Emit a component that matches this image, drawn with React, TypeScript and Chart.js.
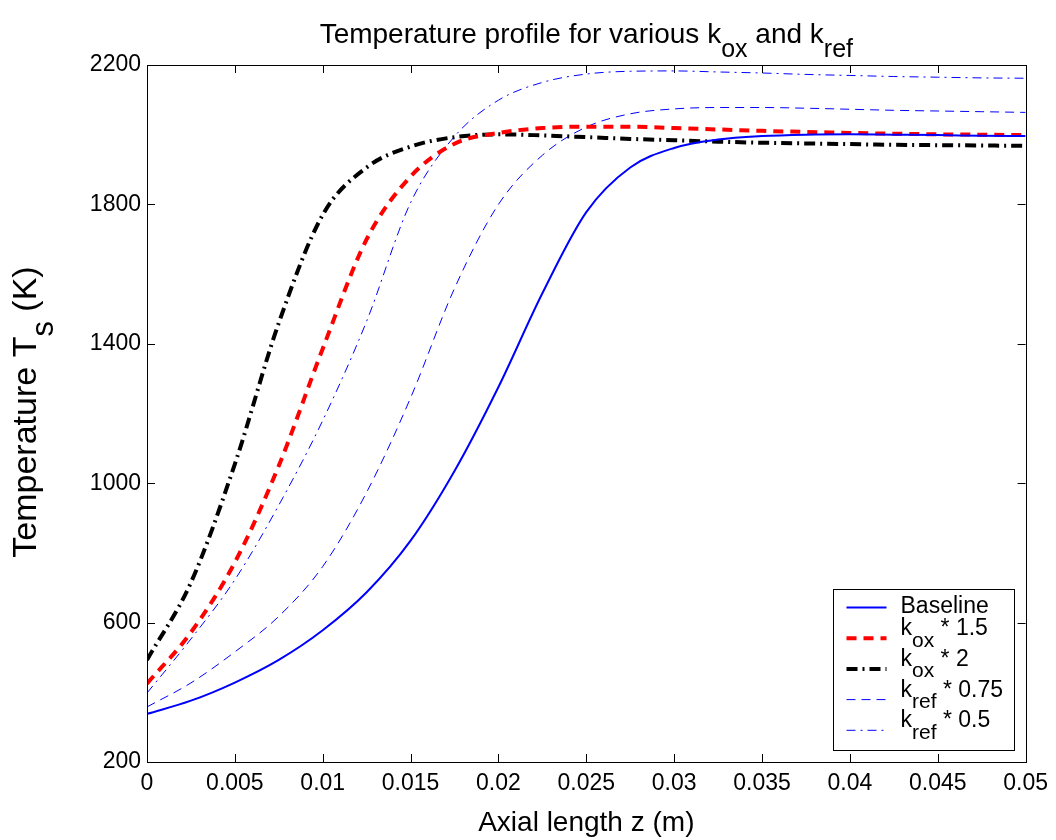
import React, { useEffect, useRef } from 'react';
import { Chart, registerables } from 'chart.js';

Chart.register(...registerables);

// ---- data ----
const zValues = [
  0, 0.0025, 0.005, 0.0075, 0.01, 0.0125, 0.015, 0.0175, 0.02, 0.0225, 0.025,
  0.0275, 0.03, 0.0325, 0.035, 0.0375, 0.04, 0.0425, 0.045, 0.0475, 0.05,
];
const baseline = [
  338, 376, 428, 493, 578, 687, 835, 1035, 1276, 1545, 1778,
  1906, 1962, 1986, 1996, 2000, 2001, 2000, 1999, 1997, 1996,
];
const kox15 = [
  425, 572, 773, 1050, 1386, 1700, 1880, 1974, 2005, 2019, 2023,
  2023, 2019, 2015, 2011, 2008, 2005, 2003, 2001, 2000, 1999,
];
const kox2 = [
  493, 715, 1055, 1460, 1770, 1906, 1966, 1993, 2001, 1998, 1993,
  1988, 1984, 1980, 1977, 1975, 1973, 1971, 1970, 1969, 1968,
];
const kref075 = [
  358, 427, 516, 618, 761, 974, 1245, 1559, 1800, 1941, 2022,
  2060, 2074, 2078, 2078, 2076, 2073, 2070, 2068, 2066, 2064,
];
const kref05 = [
  398, 553, 723, 937, 1180, 1465, 1805, 1995, 2099, 2150, 2174,
  2182, 2183, 2180, 2177, 2173, 2170, 2167, 2165, 2163, 2162,
];
const seriesNames = [
  'Baseline',
  'k_{ox} * 1.5',
  'k_{ox} * 2',
  'k_{ref} * 0.75',
  'k_{ref} * 0.5',
];
const xTicks = [0, 0.005, 0.01, 0.015, 0.02, 0.025, 0.03, 0.035, 0.04, 0.045, 0.05];
const xTickLabels = ['0', '0.005', '0.01', '0.015', '0.02', '0.025', '0.03', '0.035', '0.04', '0.045', '0.05'];
const yTicks = [200, 600, 1000, 1400, 1800, 2200];
const yTickLabels = ['200', '600', '1000', '1400', '1800', '2200'];
const titleText = 'Temperature profile for various k_{ox} and k_{ref}';
const xTitleText = 'Axial length z (m)';
const yTitleText = 'Temperature T_{s} (K)';

const FONT = '"Liberation Sans", Arial, Helvetica, sans-serif';

function parseRich(text: string) {
  const parts: { t: string; sub: boolean }[] = [];
  const re = /_\{([^}]*)\}/g;
  let last = 0;
  let m: RegExpExecArray | null;
  while ((m = re.exec(text)) !== null) {
    if (m.index > last) parts.push({ t: text.slice(last, m.index), sub: false });
    parts.push({ t: m[1], sub: true });
    last = m.index + m[0].length;
  }
  if (last < text.length) parts.push({ t: text.slice(last), sub: false });
  return parts;
}

function drawRich(
  ctx: CanvasRenderingContext2D,
  text: string,
  x: number,
  y: number,
  align: 'left' | 'center',
  size: number
) {
  const subSize = Math.round(size * 0.9);
  const subDrop = size * 0.5;
  const parts = parseRich(text);
  const fontMain = `${size}px ${FONT}`;
  const fontSub = `${subSize}px ${FONT}`;
  let total = 0;
  const widths = parts.map((p) => {
    ctx.font = p.sub ? fontSub : fontMain;
    const w = ctx.measureText(p.t).width;
    total += w;
    return w;
  });
  let cx = align === 'center' ? x - total / 2 : x;
  ctx.textAlign = 'left';
  ctx.textBaseline = 'alphabetic';
  ctx.fillStyle = '#000';
  parts.forEach((p, i) => {
    ctx.font = p.sub ? fontSub : fontMain;
    ctx.fillText(p.t, cx, p.sub ? y + subDrop : y);
    cx += widths[i];
  });
}

const decorPlugin = {
  id: 'matlabDecor',
  afterDatasetsDraw(chart: any) {
    const ctx: CanvasRenderingContext2D = chart.ctx;
    const { left, right, top, bottom } = chart.chartArea;
    const xs = chart.scales.x;
    const ys = chart.scales.y;
    ctx.save();
    // box
    ctx.strokeStyle = '#000';
    ctx.lineWidth = 1;
    ctx.setLineDash([]);
    ctx.strokeRect(Math.round(left) + 0.5, Math.round(top) + 0.5, Math.round(right - left), Math.round(bottom - top));
    // inward ticks
    const tl = 8;
    ctx.beginPath();
    xTicks.forEach((v) => {
      const px = Math.round(xs.getPixelForValue(v)) + 0.5;
      ctx.moveTo(px, bottom);
      ctx.lineTo(px, bottom - tl);
      ctx.moveTo(px, top);
      ctx.lineTo(px, top + tl);
    });
    yTicks.forEach((v) => {
      const py = Math.round(ys.getPixelForValue(v)) + 0.5;
      ctx.moveTo(left, py);
      ctx.lineTo(left + tl, py);
      ctx.moveTo(right, py);
      ctx.lineTo(right - tl, py);
    });
    ctx.stroke();

    // legend
    const lw = 181;
    const lh = 161;
    const lx = Math.round(right - 12 - lw) + 0.5;
    const ly = Math.round(bottom - 12 - lh) + 0.5;
    ctx.fillStyle = '#fff';
    ctx.fillRect(lx, ly, lw, lh);
    ctx.strokeStyle = '#000';
    ctx.lineWidth = 1;
    ctx.strokeRect(lx, ly, lw, lh);
    chart.data.datasets.forEach((ds: any, i: number) => {
      const ry = ly + 18 + i * 30.7;
      ctx.save();
      ctx.beginPath();
      ctx.strokeStyle = ds.borderColor;
      ctx.lineWidth = ds.borderWidth;
      ctx.setLineDash(ds.borderDash || []);
      ctx.moveTo(lx + 13, ry);
      ctx.lineTo(lx + 53, ry);
      ctx.stroke();
      ctx.restore();
      const name: string = seriesNames[i];
      const hasSub = name.indexOf('_{') >= 0;
      drawRich(ctx, name, lx + 67, hasSub ? ry - 3 : ry + 5, 'left', 23);
    });

    // titles
    const cxm = (left + right) / 2;
    drawRich(ctx, titleText, cxm, 43, 'center', 28);
    drawRich(ctx, xTitleText, cxm, 831, 'center', 28);
    ctx.save();
    ctx.translate(36, 412);
    ctx.rotate(-Math.PI / 2);
    drawRich(ctx, yTitleText, 0, 0, 'center', 34);
    ctx.restore();
    ctx.restore();
  },
};

export default function App() {
  const ref = useRef<HTMLCanvasElement | null>(null);

  useEffect(() => {
    if (!ref.current) return;
    const mk = (vals: number[]) => zValues.map((z, i) => ({ x: z, y: vals[i] }));
    const chart = new Chart(ref.current, {
      type: 'line',
      data: {
        datasets: [
          { label: 'Baseline', data: mk(baseline), borderColor: '#0000ff', borderWidth: 2, borderDash: [] },
          { label: 'k_ox * 1.5', data: mk(kox15), borderColor: '#ff0000', borderWidth: 4, borderDash: [10, 7] },
          { label: 'k_ox * 2', data: mk(kox2), borderColor: '#000000', borderWidth: 4, borderDash: [11, 5, 2, 5] },
          { label: 'k_ref * 0.75', data: mk(kref075), borderColor: '#0000ff', borderWidth: 1, borderDash: [9, 6] },
          { label: 'k_ref * 0.5', data: mk(kref05), borderColor: '#0000ff', borderWidth: 1, borderDash: [9, 5, 2, 5] },
        ].map((d) => ({
          ...d,
          pointRadius: 0,
          fill: false,
          cubicInterpolationMode: 'monotone' as const,
        })),
      },
      options: {
        animation: false,
        responsive: false,
        devicePixelRatio: 1,
        layout: { padding: { top: 65, right: 26, bottom: 0, left: 0 } },
        plugins: {
          legend: { display: false },
          title: { display: false },
          tooltip: { enabled: false },
        },
        scales: {
          x: {
            type: 'linear',
            min: 0,
            max: 0.05,
            grid: { display: false, drawTicks: false },
            border: { display: false },
            afterFit: (s: any) => {
              s.height = 78;
            },
            afterBuildTicks: (s: any) => {
              s.ticks = xTicks.map((v) => ({ value: v }));
            },
            ticks: {
              autoSkip: false,
              maxRotation: 0,
              padding: 8,
              color: '#000',
              font: { family: FONT, size: 23 },
              callback: (_v: any, i: number) => xTickLabels[i],
            },
          },
          y: {
            type: 'linear',
            min: 200,
            max: 2200,
            grid: { display: false, drawTicks: false },
            border: { display: false },
            afterFit: (s: any) => {
              s.width = 147;
            },
            afterBuildTicks: (s: any) => {
              s.ticks = yTicks.map((v) => ({ value: v }));
            },
            ticks: {
              autoSkip: false,
              padding: 6,
              color: '#000',
              font: { family: FONT, size: 23 },
              callback: (_v: any, i: number) => yTickLabels[i],
            },
          },
        },
      },
      plugins: [decorPlugin],
    });
    return () => chart.destroy();
  }, []);

  return (
    <div style={{ position: 'absolute', left: 0, top: 0, width: 1056, height: 840, background: '#fff' }}>
      <canvas ref={ref} width={1056} height={840} style={{ width: 1056, height: 840, display: 'block' }} />
    </div>
  );
}
